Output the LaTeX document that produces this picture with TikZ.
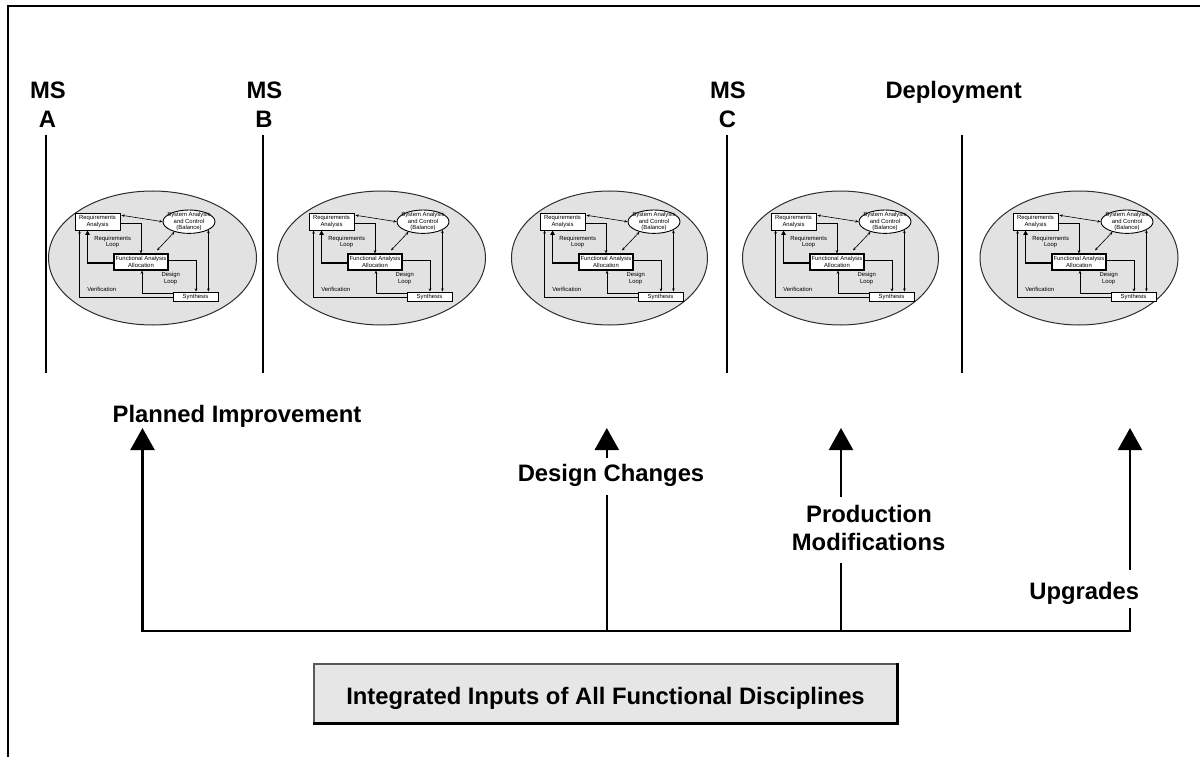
\documentclass[tikz,border=0pt]{standalone}
\usepackage{fontspec}
\setmainfont{Liberation Sans}
\usetikzlibrary{arrows.meta,shapes.geometric,calc}
\definecolor{ellfill}{RGB}{226,226,226}
\definecolor{boxfill}{RGB}{230,230,230}
\definecolor{ellline}{RGB}{45,45,45}
\newcommand{\mytiny}{\fontsize{5.9}{6.4}\selectfont}
\newcommand{\mybig}{\fontsize{23.8}{28}\selectfont\bfseries}
\newcommand{\sepanel}[4]{%
  \node[outerell, minimum width=#2pt] (#4e) at (#1,258) {};
  \begin{scope}[shift={(#3,258)}]
    \node[ibox, minimum width=45pt, minimum height=17pt] (#4ra) at (22.5,-36.5) {Requirements\\Analysis};
    \node[iell] (#4sa) at (114,-36.3) {};
    \node[itext] (#4st) at (114,-36.3) {System Analysis\\and Control\\(Balance)};
    \node[ibox, minimum width=54pt, minimum height=16pt, line width=1.2pt] (#4fa) at (66,4) {Functional Analysis\\Allocation};
    \node[ibox, minimum width=45pt, minimum height=9pt] (#4sy) at (120.5,38.5) {Synthesis};
    \node[itext] (#4rl) at (37.7,-16.3) {Requirements\\Loop};
    \node[itext] (#4dl) at (95.7,20.3) {Design\\Loop};
    \node[itext] (#4vf) at (26.7,31) {Verification};
    \draw[idbl] ($(#4ra.north east)+(1,2.7)$) -- (#4sa.west);
    \draw[iarr] ($(#4ra.east)+(0,1.5)$) -| (#4fa.north);
    \draw[idbl] (#4sa.215) -- ($(#4fa.north)+(16,-3)$);
    \draw[ithick] ($(#4fa.west)+(0,1)$) -| ($(#4ra.south west)+(13,0)$);
    \draw[iarr] ($(#4fa.east)+(0,-2)$) -| ($(#4sy.north)+(0.5,0)$);
    \draw[idbl] (#4sa.-23) -- (#4sa.-23 |- #4sy.north);
    \draw[iarr] ($(#4sy.west)+(0,-3)$) -| ($(#4fa.south)+(1,0)$);
    \draw[iarr] ($(#4sy.west)+(0,0.5)$) -| ($(#4ra.south west)+(5,0)$);
  \end{scope}}
\begin{document}
\begin{tikzpicture}[x=1pt,y=-1pt,
  outerell/.style={ellipse, draw=ellline, fill=ellfill, line width=1pt, minimum height=134pt, inner sep=0pt},
  ibox/.style={rectangle, draw=black, fill=white, line width=0.9pt, inner sep=0pt, align=center, font=\mytiny},
  iell/.style={ellipse, draw=black, fill=white, line width=0.9pt, inner sep=0pt, minimum width=52pt, minimum height=23.4pt},
  itext/.style={inner sep=0pt, align=center, font=\mytiny},
  iarr/.style={line width=0.6pt, -{Stealth[length=3.2pt,width=2.6pt]}},
  idbl/.style={line width=0.6pt, {Stealth[length=3.2pt,width=2.6pt]}-{Stealth[length=3.2pt,width=2.6pt]}},
  ithick/.style={line width=1.3pt, -{Triangle[length=4.5pt,width=4.5pt]}},
  lab/.style={inner sep=0pt, font=\mybig, anchor=base},
  bigline/.style={line width=2.3pt},
  bigarrow/.style={bigline, -{Triangle[length=22pt,width=24pt]}},
  msline/.style={line width=2.2pt},
  ]
\useasboundingbox (0,0) rectangle (1200,757);
% frame
\coordinate (fr1) at (8,760);
\coordinate (fr2) at (8,6);
\coordinate (fr3) at (1203,6);
\draw[line width=2.2pt] (fr1) -- (fr2) -- (fr3);

% milestone labels
\node[lab] (msA) at (48,99) {MS};
\node[lab] (msAl) at (47.5,128) {A};
\node[lab] (msB) at (264.5,99) {MS};
\node[lab] (msBl) at (264,128) {B};
\node[lab] (msC) at (728,99) {MS};
\node[lab] (msCl) at (727.5,128) {C};
\node[lab] (dep) at (953.6,99) {Deployment};

% milestone lines
\coordinate (mA1) at (45.7,135); \coordinate (mA2) at (45.7,373);
\coordinate (mB1) at (263.3,135); \coordinate (mB2) at (263.3,373);
\coordinate (mC1) at (727,135); \coordinate (mC2) at (727,373);
\coordinate (mD1) at (962,135); \coordinate (mD2) at (962,373);
\draw[msline] (mA1) -- (mA2);
\draw[msline] (mB1) -- (mB2);
\draw[msline] (mC1) -- (mC2);
\draw[msline] (mD1) -- (mD2);

% systems engineering panels
\sepanel{152.5}{208}{75}{A}
\sepanel{381.5}{208}{309}{B}
\sepanel{609.5}{196}{540}{C}
\sepanel{840.5}{196}{771}{D}
\sepanel{1079}{198}{1013}{E}

% feedback labels
\node[lab] (pi) at (237,422.7) {Planned Improvement};
\node[lab] (dc) at (611,481) {Design Changes};
\node[lab] (pm1) at (869,522.3) {Production};
\node[lab] (pm2) at (868.6,550.7) {Modifications};
\node[lab] (up) at (1084.3,599) {Upgrades};

% arrows
\coordinate (t1) at (142.5,428); \coordinate (b1) at (142.5,631);
\coordinate (t2) at (606.8,428); \coordinate (dcTop) at (606.8,458); \coordinate (dcBot) at (606.8,495); \coordinate (b2) at (606.8,631);
\coordinate (t3) at (841,428); \coordinate (pmTop) at (841,497); \coordinate (pmBot) at (841,563); \coordinate (b3) at (841,631);
\coordinate (t4) at (1130,428); \coordinate (upTop) at (1130,570); \coordinate (upBot) at (1130,608); \coordinate (b4) at (1130,631);
\draw[bigarrow] (upBot) -- (b4) -- (b1) -- (t1);
\draw[bigline] (b2) -- (dcBot);
\draw[bigarrow] (dcTop) -- (t2);
\draw[bigline] (b3) -- (pmBot);
\draw[bigarrow] (pmTop) -- (t3);
\draw[bigarrow] (upTop) -- (t4);

% bottom box
\node[draw=gray!70!black, fill=boxfill, line width=1.2pt, minimum width=583pt, minimum height=59pt,
      inner sep=0pt, text height=21pt, text depth=0pt, font=\mybig] (inp) at (605.5,693.5)
      {Integrated Inputs of All Functional Disciplines};
\draw[line width=2.6pt] (inp.north east) -- (inp.south east) -- (inp.south west);
\end{tikzpicture}
\end{document}
